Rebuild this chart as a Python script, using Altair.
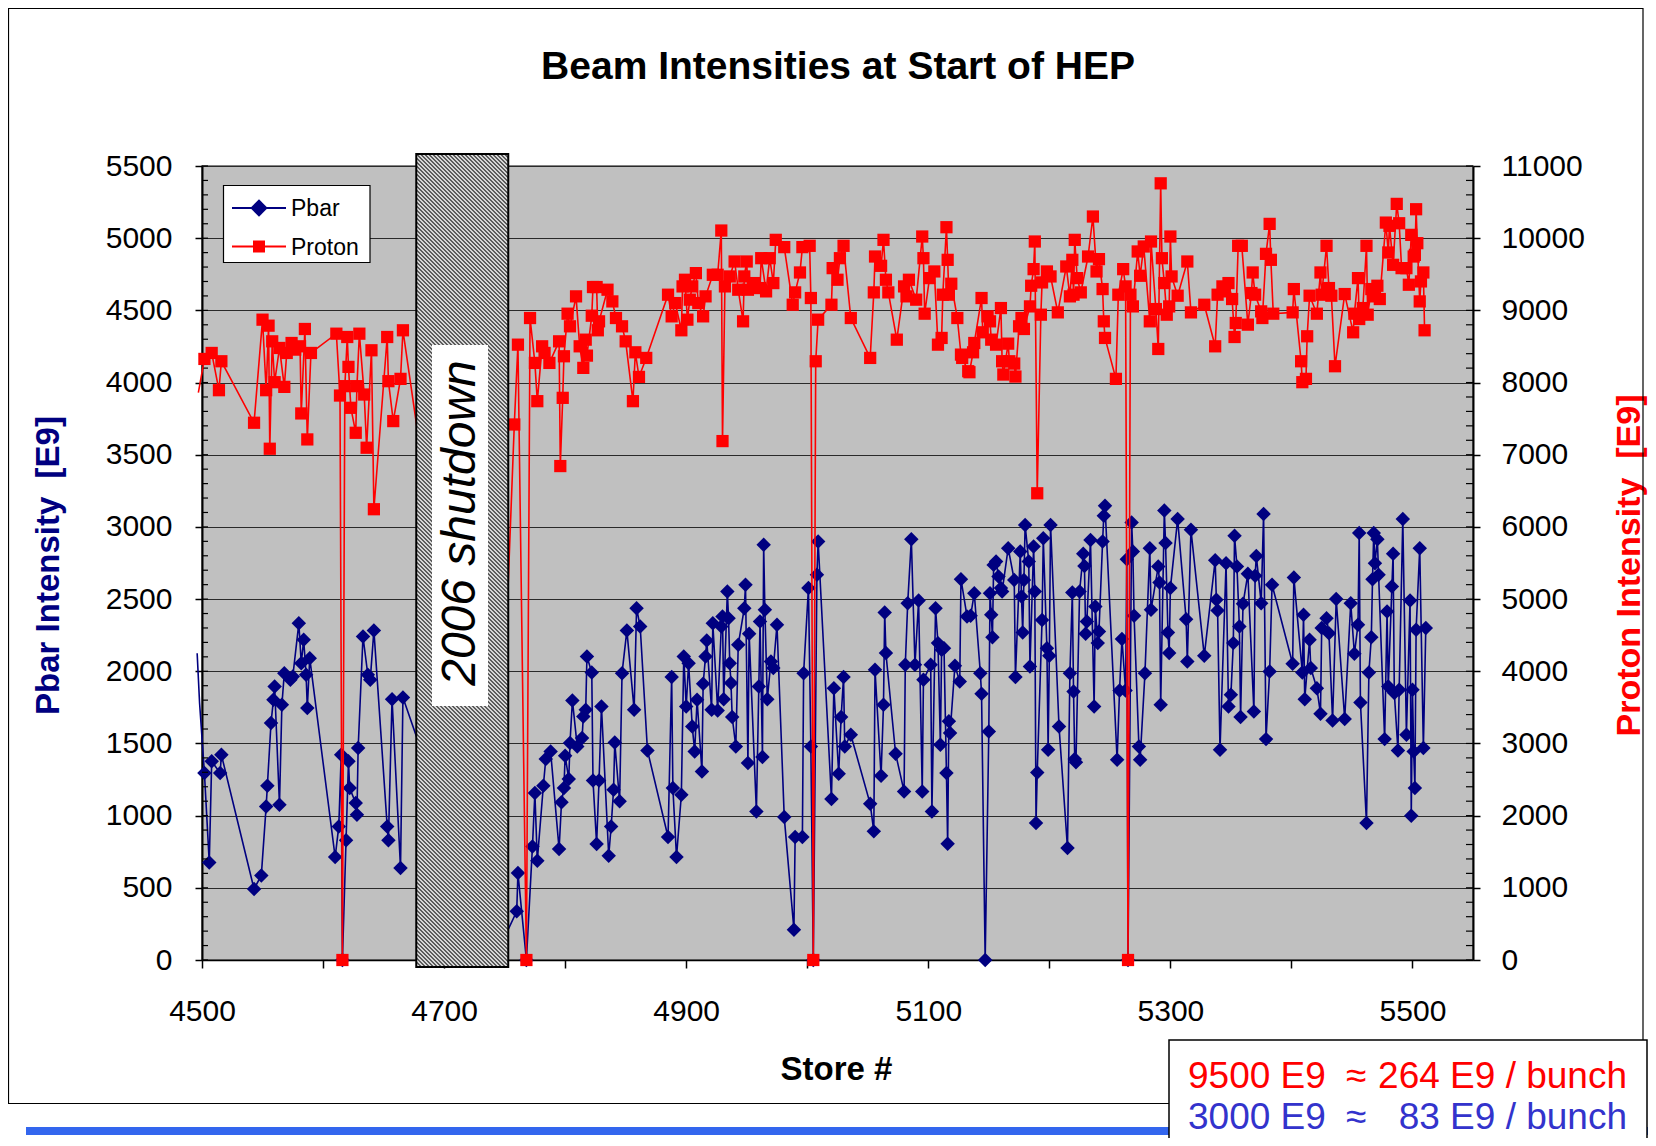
import altair as alt
import pandas as pd

# ---------------- data ----------------
pbar_store = [4496, 4498, 4502, 4506, 4508, 4515, 4516, 4543, 4549, 4553, 4554, 4557, 4559, 4560, 4564, 4566, 4568, 4573, 4575,
              4580, 4582, 4584, 4586, 4587, 4589, 4610, 4613, 4615, 4616, 4619, 4621, 4622, 4627, 4628, 4629, 4633, 4637, 4639,
              4642, 4653, 4654, 4657, 4664, 4666, 4741, 4760, 4761, 4768, 4773, 4775, 4777, 4782, 4784, 4788, 4795, 4797, 4799,
              4800, 4803, 4804, 4806, 4810, 4814, 4815, 4817, 4818, 4822, 4823, 4826, 4828, 4830, 4836, 4838, 4840, 4841, 4845,
              4847, 4851, 4857, 4859, 4862, 4868, 4885, 4888, 4889, 4892, 4896, 4898, 4900, 4902, 4905, 4907, 4909, 4913, 4914,
              4916, 4917, 4921, 4922, 4926, 4929, 4930, 4931, 4934, 4935, 4936, 4937, 4938, 4941, 4943, 4948, 4949, 4951, 4952,
              4958, 4960, 4961, 4963, 4964, 4965, 4967, 4970, 4972, 4975, 4981, 4989, 4990, 4996, 4997, 5001, 5003, 5005, 5008,
              5009, 5020, 5022, 5026, 5028, 5030, 5031, 5036, 5052, 5055, 5056, 5061, 5063, 5064, 5065, 5073, 5080, 5081, 5083,
              5086, 5089, 5092, 5095, 5096, 5102, 5103, 5106, 5108, 5110, 5111, 5113, 5115, 5116, 5117, 5118, 5122, 5126, 5127,
              5132, 5135, 5138, 5143, 5144, 5147, 5150, 5151, 5152, 5153, 5154, 5156, 5158, 5160, 5161, 5166, 5171, 5172, 5176,
              5177, 5178, 5179, 5180, 5183, 5184, 5187, 5188, 5189, 5190, 5194, 5195, 5198, 5199, 5200, 5201, 5208, 5215, 5217,
              5219, 5220, 5221, 5222, 5225, 5228, 5229, 5230, 5231, 5234, 5237, 5238, 5240, 5241, 5244, 5245, 5246, 5256, 5258,
              5260, 5263, 5264, 5265, 5268, 5269, 5270, 5274, 5275, 5279, 5283, 5284, 5290, 5291, 5292, 5295, 5296, 5298, 5299,
              5300, 5306, 5313, 5314, 5317, 5328, 5337, 5338, 5339, 5341, 5346, 5348, 5350, 5352, 5353, 5355, 5357, 5358, 5360,
              5364, 5369, 5370, 5371, 5375, 5377, 5379, 5382, 5384, 5401, 5402, 5409, 5410, 5411, 5415, 5416, 5421, 5424, 5425,
              5429, 5431, 5434, 5437, 5444, 5449, 5452, 5455, 5456, 5457, 5462, 5464, 5466, 5467, 5468, 5469, 5471, 5472, 5477,
              5479, 5480, 5483, 5484, 5485, 5488, 5489, 5492, 5495, 5498, 5499, 5500, 5501, 5502, 5503, 5506, 5509, 5511]
pbar_value = [2125, 1780, 1295, 676, 1376, 1295, 1422, 492, 586, 1064, 1207, 1641, 1802, 1895, 1075, 1768, 1987, 1941, 1964,
              2333, 2056, 2218, 1976, 1745, 2091, 713, 925, 1422, 0, 829, 1376, 1191, 1087, 1006, 1468, 2241, 1976, 1941,
              2283, 925, 829, 1807, 637, 1819, 0, 337, 602, 0, 787, 1156, 688, 1207, 1392, 1445, 769, 1092, 1191,
              1415, 1253, 1503, 1798, 1479, 1537, 1687, 1733, 2103, 1992, 1244, 803, 1244, 1756, 722, 925, 1179, 1507, 1099,
              1987, 2283, 1733, 2437, 2310, 1452, 852, 1960, 1191, 713, 1145, 2103, 1756, 2056, 1618, 1445, 1802, 1306, 1913,
              2103, 2213, 1733, 2333, 1729, 2310, 2380, 1807, 2553, 2368, 2056, 1918, 1683, 1479, 2183, 2437, 2599, 1364, 2260,
              1029, 1895, 2345, 1406, 2876, 2426, 1807, 2068, 2022, 2322, 990, 210, 852, 852, 1987, 2576, 1479, 0, 2668,
              2899, 1115, 1883, 1290, 1683, 1960, 1479, 1560, 1082, 891, 2010, 1276, 1768, 2407, 2126, 1429, 1168, 2045, 2472,
              2915, 2045, 2491, 1168, 1941, 2045, 1029, 2437, 2195, 1491, 2149, 2160, 1295, 806, 1653, 1572, 2038, 1929, 2638,
              2380, 2384, 2541, 1987, 1844, 0, 1583, 2541, 2391, 2236, 2737, 2760, 2656, 2576, 2553, 2853, 2633, 1960, 2830,
              2518, 2269, 2633, 3014, 2760, 2033, 2864, 2553, 949, 1299, 2356, 2922, 2160, 1456, 2107, 3014, 1618, 775, 1987,
              2546, 1860, 1392, 1369, 2553, 2814, 2730, 2260, 2345, 2910, 1756, 2449, 2195, 2276, 2899, 3077, 3146, 1387, 1867,
              2223, 1867, 2776, 0, 3030, 2830, 2384, 1479, 1387, 1987, 2853, 2426, 2726, 2615, 1768, 3113, 2888, 2269, 2126,
              2576, 3054, 2361, 2068, 2980, 2107, 2769, 2495, 2421, 1456, 2749, 1756, 1837, 2195, 2938, 2726, 2310, 1683, 2467,
              2675, 1722, 2661, 2799, 2472, 3090, 1530, 1999, 2599, 2052, 2650, 1992, 2391, 1807, 2218, 2022, 1883, 1706, 2299,
              2368, 2264, 1659, 2500, 1669, 2472, 2121, 2322, 2957, 1784, 949, 1992, 2236, 2638, 2957, 2749, 2915, 2668, 1530,
              2414, 1895, 2587, 2814, 1849, 1452, 1872, 3054, 1560, 2491, 999, 1872, 1445, 1191, 2287, 2853, 1468, 2299]

proton_store = [4497, 4502, 4508, 4514, 4516, 4543, 4550, 4553, 4555, 4556, 4558, 4560, 4564, 4568, 4570, 4574, 4577, 4581,
                4582, 4585, 4587, 4590, 4611, 4614, 4616, 4618, 4620, 4621, 4623, 4627, 4628, 4630, 4634, 4636, 4640, 4642,
                4653, 4654, 4658, 4664, 4666, 4741, 4758, 4761, 4768, 4771, 4775, 4777, 4781, 4783, 4787, 4795, 4796, 4798,
                4799, 4802, 4804, 4809, 4812, 4815, 4817, 4818, 4822, 4823, 4826, 4827, 4828, 4835, 4839, 4842, 4847, 4850,
                4856, 4858, 4861, 4867, 4885, 4888, 4891, 4896, 4897, 4899, 4901, 4903, 4905, 4908, 4910, 4914, 4916, 4922,
                4926, 4929, 4930, 4932, 4936, 4940, 4943, 4947, 4948, 4950, 4951, 4956, 4961, 4962, 4966, 4969, 4972, 4974,
                4981, 4988, 4990, 4994, 4996, 5002, 5003, 5005, 5007, 5009, 5020, 5021, 5025, 5027, 5030, 5036, 5052, 5055,
                5056, 5061, 5063, 5065, 5067, 5074, 5080, 5082, 5084, 5090, 5095, 5096, 5097, 5101, 5105, 5108, 5111, 5112,
                5115, 5116, 5117, 5119, 5124, 5127, 5128, 5133, 5134, 5137, 5138, 5144, 5145, 5149, 5151, 5152, 5156, 5160,
                5161, 5162, 5166, 5167, 5171, 5172, 5175, 5177, 5179, 5184, 5185, 5187, 5188, 5190, 5193, 5194, 5198, 5201,
                5207, 5214, 5217, 5219, 5220, 5221, 5223, 5226, 5232, 5236, 5239, 5241, 5244, 5245, 5246, 5255, 5257, 5261,
                5263, 5265, 5267, 5269, 5273, 5275, 5278, 5283, 5284, 5288, 5290, 5292, 5293, 5295, 5297, 5299, 5300, 5301,
                5306, 5314, 5317, 5328, 5337, 5339, 5343, 5345, 5348, 5351, 5353, 5354, 5356, 5359, 5364, 5367, 5368, 5370,
                5375, 5376, 5379, 5382, 5383, 5385, 5401, 5402, 5408, 5409, 5412, 5413, 5415, 5421, 5424, 5425, 5429, 5431,
                5433, 5436, 5444, 5451, 5452, 5455, 5456, 5459, 5462, 5463, 5466, 5468, 5471, 5473, 5478, 5480, 5481, 5484,
                5487, 5489, 5491, 5495, 5497, 5499, 5501, 5502, 5503, 5504, 5506, 5507, 5509, 5510]
proton_value = [7860, 8327, 8410, 7894, 8295, 7443, 8871, 7894, 8788, 7083, 8571, 8005, 8479, 7940, 8410, 8548, 8456, 8502,
                7572, 8742, 7212, 8410, 8677, 7820, 0, 7950, 8631, 8217, 7650, 7304, 7950, 8677, 7834, 7097, 8447, 6245,
                8631, 8019, 7466, 8051, 8724, 0, 7419, 8525, 0, 8894, 8272, 7742, 8502, 8410, 8272, 8571, 6843, 7788,
                8364, 8954, 8779, 9194, 8502, 8203, 8594, 8373, 8926, 9323, 9323, 8724, 8848, 9286, 9124, 8894, 8779, 8571,
                7742, 8419, 8078, 8341, 9217, 8917, 9101, 8724, 9332, 9424, 8871, 9148, 9332, 9516, 9101, 8917, 9194, 9493,
                9493, 10106, 7189, 9332, 9470, 9677, 9286, 8848, 9470, 9677, 9286, 9378, 9309, 9723, 9263, 9723, 9378, 9977,
                9876, 9078, 9249, 9525, 9876, 9894, 9171, 0, 8295, 8871, 9078, 9585, 9424, 9723, 9894, 8894, 8341, 9249,
                9746, 9617, 9977, 9424, 9249, 8594, 9332, 9194, 9424, 9148, 10023, 9723, 8954, 9447, 9539, 8525, 8618, 9217,
                10152, 9700, 9217, 9369, 8894, 8387, 8341, 8157, 8143, 8419, 8548, 9171, 8696, 8917, 8848, 8594, 8525, 9032,
                8295, 8111, 8539, 8295, 8263, 8083, 8779, 8894, 8742, 9055, 9341, 9571, 9954, 6466, 8940, 9387, 9539, 9470,
                8972, 9608, 9194, 9700, 9217, 9977, 9447, 9249, 9746, 10300, 9539, 9710, 9295, 8848, 8618, 8051, 9217, 9571,
                9332, 0, 9217, 9055, 9816, 9479, 9885, 8848, 9954, 9018, 8465, 10760, 9723, 9378, 8940, 9055, 10023, 9470,
                9203, 9677, 8972, 9078, 8502, 9217, 9332, 9263, 9378, 9157, 8631, 8825, 9894, 9894, 8802, 9240, 9525, 9217,
                8986, 8894, 9783, 10198, 9700, 8954, 8972, 9295, 8295, 8005, 8051, 8641, 9203, 8954, 9525, 9217, 9894, 9309,
                9203, 8226, 9226, 8696, 8954, 9447, 8880, 9032, 9894, 8940, 9295, 9194, 9341, 9157, 10216, 9802, 10171, 9631,
                10475, 10207, 9585, 9585, 9355, 10046, 9746, 9769, 10401, 9931, 9124, 9401, 9525, 8724]

series_names = ["Pbar", "Proton"]
x_tick_values = list(range(4500, 5501, 100))
left_tick_values = list(range(0, 5501, 500))
right_tick_values = list(range(0, 11001, 1000))
left_minor_values = list(range(0, 5501, 100))
right_minor_values = list(range(0, 11001, 200))
shutdown_start = [4677]
shutdown_end = [4753]
shutdown_label = ["2006 shutdown"]
chart_title = ["Beam Intensities at Start of HEP"]
note_left = ["9500 E9", "3000 E9"]
note_mid = ["\u2248", "\u2248"]
note_right = ["264 E9 / bunch", "83 E9 / bunch"]
NB = "\u00a0"
left_title = "Pbar Intensity" + NB + NB + "[E9]"
right_title = "Proton Intensity" + NB + NB + "[E9]"

# ---------------- styling ----------------
W, H = 1271, 794
FONT = "Liberation Sans"
NAVY = "#000080"
RED = "#FF0000"
NOTE_BLUE = "#3333CC"

pbar_df = pd.DataFrame({"store": pbar_store, "pbar": pbar_value})
proton_df = pd.DataFrame({"store": proton_store, "proton": proton_value})

x_scale = alt.Scale(domain=[4500, 5550], nice=False, zero=False)
yl_scale = alt.Scale(domain=[0, 5500], nice=False)
yr_scale = alt.Scale(domain=[0, 11000], nice=False)

x_axis = alt.Axis(values=x_tick_values, format="d",
                  labelExpr="(datum.value - 4500) % 200 == 0 ? datum.label : ''",
                  labelFontSize=30, labelFont=FONT, labelColor="black", labelPadding=28,
                  labelFlush=False, labelOverlap=False,
                  tickSize=8, tickColor="black", tickWidth=1.5,
                  domainColor="black", domainWidth=1.5, grid=False,
                  title="Store #", titleFont=FONT, titleFontSize=33, titleFontWeight="bold",
                  titleColor="black", titleX=634, titleY=119, titleAlign="center",
                  titleBaseline="alphabetic")

yl_axis = alt.Axis(values=left_tick_values, format="d", orient="left",
                   labelFontSize=30, labelFont=FONT, labelColor="black", labelPadding=23,
                   labelFlush=False, labelOverlap=False,
                   tickSize=7, tickColor="black", tickWidth=1.5,
                   domainColor="black", domainWidth=2,
                   grid=True, gridColor="#2a2a2a", gridWidth=1,
                   title=left_title, titleFont=FONT, titleFontSize=33,
                   titleFontWeight="bold", titleColor=NAVY, titleAngle=270,
                   titleX=-144, titleY=399, titleAlign="center", titleBaseline="alphabetic")

yr_axis = alt.Axis(values=right_tick_values, format="d", orient="right",
                   labelFontSize=30, labelFont=FONT, labelColor="black", labelPadding=21,
                   labelFlush=False, labelOverlap=False,
                   tickSize=7, tickColor="black", tickWidth=1.5,
                   domainColor="black", domainWidth=2, grid=False,
                   title=right_title, titleFont=FONT, titleFontSize=34,
                   titleFontWeight="bold", titleColor=RED, titleAngle=270,
                   titleX=166, titleY=399, titleAlign="center", titleBaseline="alphabetic")

X = alt.X("store:Q", scale=x_scale, axis=x_axis)
YL = alt.Y("pbar:Q", scale=yl_scale, axis=yl_axis)
YR = alt.Y("proton:Q", scale=yr_scale, axis=yr_axis)

pbar_line = alt.Chart(pbar_df).mark_line(color=NAVY, strokeWidth=1.6).encode(x=X, y=YL)
pbar_pts = alt.Chart(pbar_df).transform_filter("datum.store >= 4500").mark_point(
    shape="diamond", filled=True, size=210, color=NAVY, opacity=1).encode(x=X, y=YL)
left_minor = alt.Chart(pd.DataFrame({"pbar": left_minor_values})).mark_rule(
    color="black", strokeWidth=1.2).encode(x=alt.value(0), x2=alt.value(6), y=YL)
left_group = alt.layer(pbar_line, pbar_pts, left_minor)

proton_line = alt.Chart(proton_df).mark_line(color=RED, strokeWidth=1.6).encode(x=X, y=YR)
proton_pts = alt.Chart(proton_df).transform_filter("datum.store >= 4500").mark_point(
    shape="square", filled=True, size=150, color=RED, opacity=1).encode(x=X, y=YR)
right_minor = alt.Chart(pd.DataFrame({"proton": right_minor_values})).mark_rule(
    color="black", strokeWidth=1.2).encode(x=alt.value(W - 7), x2=alt.value(W), y=YR)
right_group = alt.layer(proton_line, proton_pts, right_minor)


# ---------------- decorations ----------------
def one(key, value):
    return alt.Chart(pd.DataFrame({key: [value]}))


def text_mark(text, x, y, size, color="black", align="left", weight="normal",
              style="normal", angle=0, baseline="alphabetic"):
    return one("t", text).mark_text(
        font=FONT, fontSize=size, color=color, align=align, fontWeight=weight,
        fontStyle=style, angle=angle, baseline=baseline).encode(
        text="t:N", x=alt.value(x), y=alt.value(y))


def box(x, y, x2, y2, fill="white", stroke="black", sw=1.5, fill_opacity=1.0):
    return one("k", 0).mark_rect(fill=fill, fillOpacity=fill_opacity, stroke=stroke,
                                 strokeWidth=sw).encode(
        x=alt.value(x), x2=alt.value(x2), y=alt.value(y), y2=alt.value(y2))


# hatched shutdown box: downward-diagonal stripes via a hard-stop linear gradient
bw, bh = (shutdown_end[0] - shutdown_start[0]) * W / 1050.0, 813.0
k = (bw + bh) / (bw * bw + bh * bh)
period = 4.0
n = int((bw + bh) / period) + 1
stops = []
for i in range(n):
    o0 = min(1.0, i * period / (bw + bh))
    o1 = min(1.0, (i * period + period / 2) / (bw + bh))
    o2 = min(1.0, (i + 1) * period / (bw + bh))
    stops += [alt.GradientStop(color="#5c5c5c", offset=o0), alt.GradientStop(color="#5c5c5c", offset=o1),
              alt.GradientStop(color="#d6d6d6", offset=o1), alt.GradientStop(color="#d6d6d6", offset=o2)]
hatch = alt.LinearGradient(gradient="linear", stops=stops, x1=0, y1=1, x2=k * bw, y2=1 - k * bh)

shut_df = pd.DataFrame({"store": shutdown_start, "store_end": shutdown_end})
shutdown_box = alt.Chart(shut_df).mark_rect(fill=hatch, stroke="black", strokeWidth=2).encode(
    x=X, x2="store_end:Q", y=alt.value(-12), y2=alt.value(801))
shutdown_white = box(230, 179, 286, 540, fill="white", stroke="white", sw=0)
shutdown_text = text_mark(shutdown_label[0], 259, 357, 48, style="italic", angle=270,
                          align="center", baseline="middle")

# legend
legend_box = box(21.5, 19.5, 168, 96.5, fill="white", stroke="black", sw=1.2)
leg_line1 = one("s", series_names[0]).mark_rule(color=NAVY, strokeWidth=2).encode(
    x=alt.value(30), x2=alt.value(84), y=alt.value(42))
leg_line2 = one("s", series_names[1]).mark_rule(color=RED, strokeWidth=2).encode(
    x=alt.value(30), x2=alt.value(84), y=alt.value(80.5))
leg_pt1 = one("s", series_names[0]).mark_point(shape="diamond", filled=True, size=300,
                                               color=NAVY, opacity=1).encode(
    x=alt.value(57), y=alt.value(42))
leg_pt2 = one("s", series_names[1]).mark_point(shape="square", filled=True, size=144,
                                               color=RED, opacity=1).encode(
    x=alt.value(57), y=alt.value(80.5))
leg_t1 = text_mark(series_names[0], 89, 50, 23)
leg_t2 = text_mark(series_names[1], 89, 88.5, 23)

title = text_mark(chart_title[0], 636, -87, 39, weight="bold", align="center")

frame = box(-193.5, -157.5, 1441, 937.5, fill="white", stroke="black", sw=1.2, fill_opacity=0)
blue_line = one("k", 0).mark_rule(color="#3366EE", strokeWidth=8).encode(
    x=alt.value(-176), x2=alt.value(1460), y=alt.value(965))
note_box = box(967, 874, 1445, 990, fill="white", stroke="black", sw=1.5)
note1a = text_mark(note_left[0], 986, 922, 37, color=RED)
note1b = text_mark(note_mid[0], 1144, 922, 37, color=RED)
note1c = text_mark(note_right[0], 1425, 922, 37, color=RED, align="right")
note2a = text_mark(note_left[1], 986, 963, 37, color=NOTE_BLUE)
note2b = text_mark(note_mid[1], 1144, 963, 37, color=NOTE_BLUE)
note2c = text_mark(note_right[1], 1425, 963, 37, color=NOTE_BLUE, align="right")

chart = alt.layer(
    left_group, right_group, shutdown_box, shutdown_white, shutdown_text,
    legend_box, leg_line1, leg_line2, leg_pt1, leg_pt2, leg_t1, leg_t2,
    title, frame, blue_line, note_box, note1a, note1b, note1c, note2a, note2b, note2c
).resolve_scale(y="independent").properties(
    width=W, height=H,
    padding={"left": 194, "top": 158, "right": 175, "bottom": 178},
    autosize=alt.AutoSizeParams(type="none"),
).configure_view(fill="#C0C0C0", stroke="#5a5a5a", strokeWidth=1.5)

chart.save("out.html", embed_options={"renderer": "svg", "actions": False})
